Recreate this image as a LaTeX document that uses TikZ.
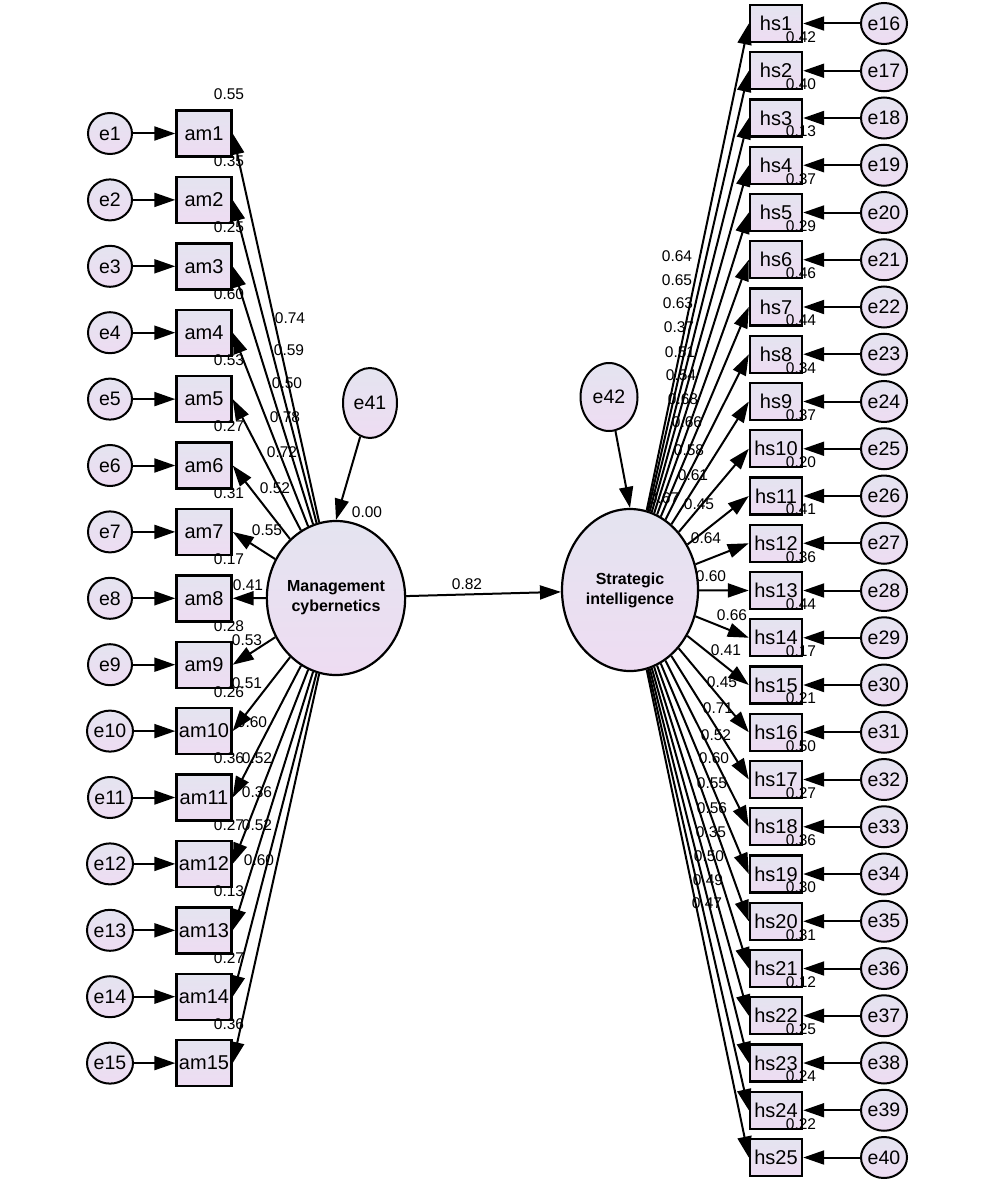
\documentclass[tikz,border=0pt]{standalone}
\usepackage{fontspec}
\setmainfont{Liberation Sans}
\usetikzlibrary{arrows.meta,shapes.geometric}
\definecolor{lavA}{RGB}{228,228,240}
\definecolor{lavB}{RGB}{238,220,242}
\tikzset{
 obs/.style={draw, line width=2.4pt, rectangle, minimum width=55pt, minimum height=46pt, inner sep=0pt, top color=lavA, bottom color=lavB, font=\fontsize{20}{22}\selectfont},
 obsR/.style={obs, minimum width=52pt, minimum height=37pt},
 err/.style={draw, line width=2pt, ellipse, minimum width=44pt, minimum height=41pt, inner sep=0pt, top color=lavA, bottom color=lavB, font=\fontsize{19.5}{22}\selectfont},
 lat/.style={draw, line width=2.2pt, ellipse, inner sep=0pt, top color=lavA, bottom color=lavB, font=\fontsize{16}{20}\selectfont\bfseries, align=center},
 arr/.style={line width=2pt, -{Triangle[length=21pt,width=14pt]}},
 num/.style={font=\fontsize{15.5}{17}\selectfont, inner sep=0pt},
}
\begin{document}
\begin{tikzpicture}[x=1pt,y=-1pt]
\fill[white] (0,0) rectangle (1000,1185);
\path[use as bounding box] (0,0) rectangle (1000,1185);

% latent variables
\node[lat, minimum width=128pt, minimum height=154pt] (mc) at (336,598) {Management\\cybernetics};
\node[lat, minimum width=136pt, minimum height=162pt] (si) at (630,590) {Strategic\\intelligence};
\node[err, minimum width=54pt, minimum height=70pt] (e41) at (370,403) {e41};
\node[err, minimum width=57pt, minimum height=68pt] (e42) at (609,397) {e42};

% left indicators
\foreach \i in {1,...,15} {
  \pgfmathsetmacro\yy{133.5+(\i-1)*66.4}
  \node[obs] (am\i) at (204,\yy) {am\i};
  \node[err] (e\i) at (110,\yy) {e\i};
  \draw[arr] (e\i) -- (am\i);
  \draw[arr] (mc) -- (am\i.east);
}

% right indicators
\foreach \i [evaluate=\i as \n using int(\i+15)] in {1,...,25} {
  \pgfmathsetmacro\yy{23.5+(\i-1)*47.25}
  \node[obsR] (hs\i) at (776,\yy) {hs\i};
  \node[err] (e\n) at (884,\yy) {e\n};
  \draw[arr] (e\n) -- (hs\i);
  \draw[arr] (si) -- (hs\i.west);
}

% structural paths
\draw[arr] (e41) -- (mc.north);
\draw[arr] (e42) -- (si.north);
\draw[arr] (mc) -- (si);
\node[num] at (467,584) {0.82};
\node[num] at (367,512) {0.00};

% left loadings
\foreach \v/\x/\y in {0.74/290/318, 0.59/289/350, 0.50/287/383, 0.78/285/417, 0.72/282/452,
  0.52/275/488, 0.55/267/530, 0.41/248/585, 0.53/247/640, 0.51/247/683, 0.60/252/722,
  0.52/257/758, 0.36/257/792, 0.52/257/825, 0.60/259/860}
  \node[num] at (\x,\y) {\v};

% left squared multiple correlations
\foreach \v [count=\i] in {0.55,0.35,0.25,0.60,0.53,0.27,0.31,0.17,0.28,0.26,0.36,0.27,0.13,0.27,0.36} {
  \pgfmathsetmacro\yy{133.5+(\i-1)*66.4-39}
  \node[num] at (229,\yy) {\v};
}

% right loadings
\foreach \v/\x/\y in {0.64/677/256, 0.65/677/280, 0.63/678/303, 0.37/679/327, 0.51/680/352,
  0.54/681/375, 0.68/683/399, 0.66/687/422, 0.58/689/450, 0.61/693/475, 0.67/664/498,
  0.45/699/504, 0.64/706/538, 0.60/711/576, 0.66/732/615, 0.41/726/650, 0.45/722/682,
  0.71/718/708, 0.52/716/735, 0.60/714/758, 0.55/712/783, 0.56/712/808, 0.35/711/832,
  0.50/709/856, 0.49/708/880, 0.47/707/903}
  \node[num] at (\x,\y) {\v};

% right squared multiple correlations
\foreach \v [count=\i] in {0.42,0.40,0.13,0.37,0.29,0.46,0.44,0.34,0.37,0.20,0.41,0.36,0.44,0.17,0.21,0.50,0.27,0.36,0.30,0.31,0.12,0.25,0.24,0.22} {
  \pgfmathsetmacro\yy{23.5+(\i-1)*47.25+13.5}
  \node[num] at (801,\yy) {\v};
}
\end{tikzpicture}
\end{document}
